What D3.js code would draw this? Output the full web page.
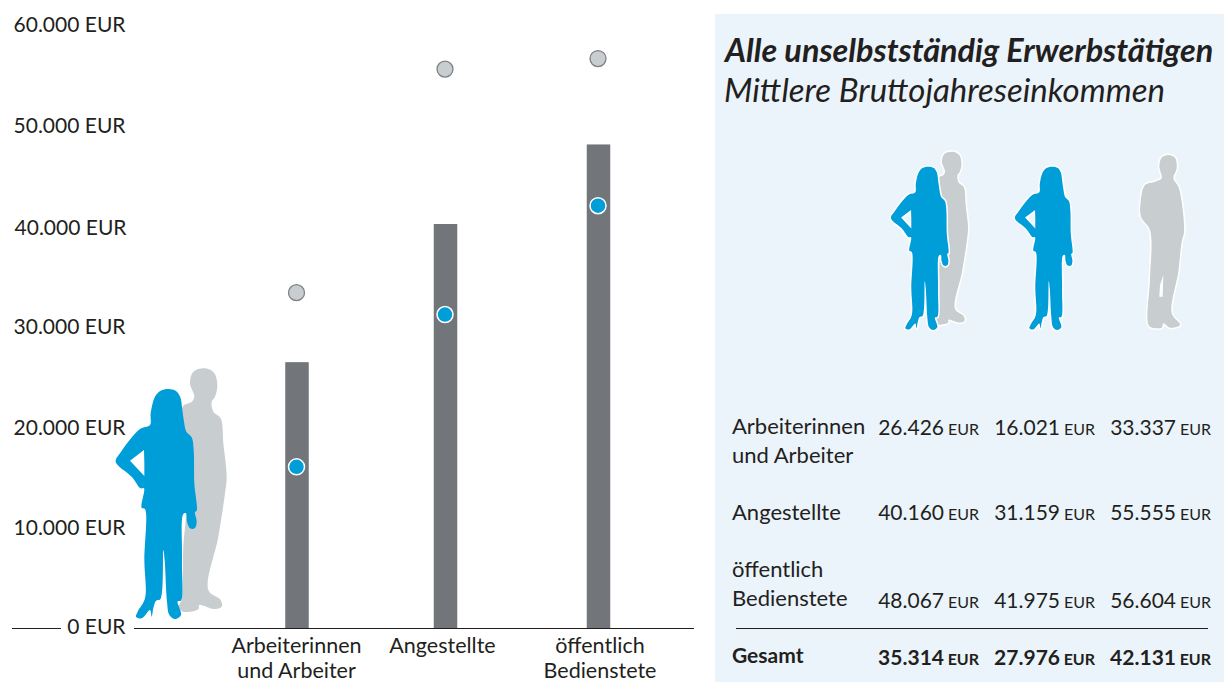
<!DOCTYPE html>
<html lang="de"><head><meta charset="utf-8">
<script src="https://cdn.jsdelivr.net/npm/d3@7/dist/d3.min.js"></script>
<style>
html,body{margin:0;padding:0;background:#fff}
svg{display:block}
text{font-family:Lato,"Open Sans",sans-serif;fill:#231f20}
</style></head><body><svg id="c" width="1224" height="682"></svg>
<script>
const categories = [["Arbeiterinnen","und Arbeiter"],["Angestellte"],["öffentlich","Bedienstete"]];
const categoryKeys = ["Arbeiter","Angestellte","Bedienstete"];
const gesamtValues = [26426, 40160, 48067];
const frauenValues = [16021, 31159, 41975];
const maennerValues = [33337, 55555, 56604];
const totalRow = [35314, 27976, 42131];
const yTicks = [0,10000,20000,30000,40000,50000,60000];
const panelTitle = "Alle unselbstständig Erwerbstätigen";
const panelSubtitle = "Mittlere Bruttojahreseinkommen";
const totalLabel = "Gesamt";

const BLUE="#009ed8", GREY="#c8cdd0", BAR="#72767a", PANEL="#ebf4fb";
const svg=d3.select("#c");
const fmt=d3.formatLocale({decimal:",",thousands:".",grouping:[3],currency:["","EUR"]}).format(",d");

const y=d3.scaleLinear().domain([0,60000]).range([628,24.4]);
const x=d3.scaleOrdinal().domain(categoryKeys).range([297,445.5,598.5]);
const xLabel=d3.scaleOrdinal().domain(categoryKeys).range([296.5,442.5,600]);

/* ---------- silhouettes (drawn shapes, not data) ---------- */
const smooth=d3.line().curve(d3.curveCatmullRomClosed.alpha(0.5));
const womanOuter=[[205,87],[228,93],[241,112],[247,150],[252,185],[259,215],[275,232],[281,270],[283,370],[290,452],[285,456],[290,485],[284,505],[270,505],[261,485],[258,460],[250,462],[246,600],[243,722],[233,724],[243,765],[225,777],[208,765],[201,725],[194,600],[190,570],[181,718],[168,722],[160,745],[155,770],[150,750],[125,775],[108,770],[113,755],[135,715],[133,600],[135,447],[125,443],[132,385],[122,385],[95,350],[47,305],[60,280],[120,207],[150,195],[152,160],[165,110],[182,92]];
const womanHole=[[132,270],[90,302],[133,348],[133,310]];
const manOuter=[[315,25],[342,38],[352,75],[345,110],[335,125],[340,155],[362,175],[370,250],[380,350],[375,400],[355,530],[325,690],[362,720],[365,740],[340,747],[298,735],[295,748],[250,755],[235,740],[245,720],[250,560],[258,460],[255,300],[248,140],[275,125],[283,110],[270,70],[280,35]];
const man2Outer=[[865,30],[885,38],[890,70],[880,100],[895,125],[905,170],[912,262],[905,290],[895,380],[875,505],[900,540],[870,548],[850,535],[845,548],[810,545],[803,530],[810,400],[810,255],[783,215],[782,170],[795,120],[825,110],[845,100],[838,65],[845,38]];
const man2Hole=[[850,390],[848,455],[838,455],[840,420]];
const poly=p=>d3.line()(p)+"Z";

function figure(d,fill,tx,ty,s,halo){
  svg.append("path").attr("d",d).attr("fill",fill).attr("fill-rule","evenodd")
    .attr("transform",`translate(${tx},${ty}) scale(${s})`)
    .attr("stroke",halo?"#fff":"none").attr("stroke-width",halo?3:0)
    .attr("vector-effect","non-scaling-stroke").attr("stroke-linejoin","round")
    .attr("paint-order","stroke");
}
const womanD=smooth(womanOuter)+poly(womanHole);
const manD=smooth(manOuter);
const man2D=smooth(man2Outer)+poly(man2Hole);

/* ---------- left chart ---------- */
figure(manD,GREY,100,360,1/3,false);
figure(womanD,BLUE,100,360,1/3,false);

svg.append("g").selectAll("rect").data(categoryKeys).join("rect")
  .attr("x",k=>x(k)-11.75).attr("width",23.5)
  .attr("y",(k,i)=>y(gesamtValues[i])).attr("height",(k,i)=>y(0)-y(gesamtValues[i]))
  .attr("fill",BAR);

const axisG=svg.append("g").attr("transform","translate(125.5,0)")
  .call(d3.axisLeft(y).tickValues(yTicks).tickSize(0).tickPadding(0).tickFormat(v=>fmt(v)+" EUR"));
axisG.select(".domain").remove();
axisG.selectAll("text").style("font-family",'Lato,"Open Sans",sans-serif').style("font-size","21px").attr("fill","#231f20")
  .attr("dx",v=>v===40000?1:0).attr("y",v=>v===40000?2.4:v===0?-1:0.5);

[[12,61],[134,694]].forEach(([a,b])=>svg.append("line").attr("x1",a).attr("x2",b)
  .attr("y1",y(0)+0.5).attr("y2",y(0)+0.5).attr("stroke","#231f20").attr("stroke-width",1.1));

const xAxisLabels=svg.append("g").selectAll("text").data(categoryKeys).join("text")
  .attr("text-anchor","middle").attr("font-size",21.5).attr("y",652.5);
xAxisLabels.each(function(k,i){
  d3.select(this).selectAll("tspan").data(categories[i]).join("tspan")
    .attr("x",xLabel(k)).attr("dy",(d,j)=>j?25:0).text(d=>d);
});

svg.append("g").selectAll("circle").data(categoryKeys).join("circle")
  .attr("cx",k=>x(k)-0.5).attr("cy",(k,i)=>y(maennerValues[i])).attr("r",8)
  .attr("fill",GREY).attr("stroke","#7d8285").attr("stroke-width",1.3);
svg.append("g").selectAll("circle").data(categoryKeys).join("circle")
  .attr("cx",k=>x(k)-0.5).attr("cy",(k,i)=>y(frauenValues[i])).attr("r",8)
  .attr("fill",BLUE).attr("stroke","#fff").attr("stroke-width",1.5);

/* ---------- right panel ---------- */
svg.append("rect").attr("x",715).attr("y",14).attr("width",509).attr("height",668).attr("fill",PANEL);
svg.append("text").attr("x",725).attr("y",62).attr("font-size",32.4).attr("font-weight",700).attr("font-style","italic").text(panelTitle);
svg.append("text").attr("x",724).attr("y",102).attr("font-size",33).attr("font-style","italic").attr("font-weight",400).text(panelSubtitle);

figure(manD,GREY,878.1,145.75,0.2367,true);
figure(womanD,BLUE,879.8,146.08,0.2367,true);
figure(womanD,BLUE,1003.8,146.08,0.2367,true);
figure(man2D,GREY,880,145,1/3,true);

const rowBase=[435,520,608];
const labelBase=[[434,463],[520],[577,606]];
const colEnd=[944,1060,1176];
const colUnit=[979,1095,1211];
function cell(g,v,c,b,bold){
  g.append("text").attr("x",colEnd[c]).attr("y",b).attr("text-anchor","end").attr("font-size",21)
    .attr("font-weight",bold?700:400).text(fmt(v));
  g.append("text").attr("x",colUnit[c]).attr("y",b).attr("text-anchor","end").attr("font-size",16)
    .attr("font-weight",bold?700:400).text("EUR");
}
const tbl=svg.append("g");
categories.forEach((lines,i)=>{
  lines.forEach((l,j)=>tbl.append("text").attr("x",732).attr("y",labelBase[i][j]).attr("font-size",22).text(l));
  [gesamtValues,frauenValues,maennerValues].forEach((s,c)=>cell(tbl,s[i],c,rowBase[i],false));
});
tbl.append("line").attr("x1",736).attr("x2",1208).attr("y1",628.5).attr("y2",628.5).attr("stroke","#231f20").attr("stroke-width",1.1);
tbl.append("text").attr("x",732).attr("y",663).attr("font-size",21).attr("font-weight",700).text(totalLabel);
totalRow.forEach((v,c)=>cell(tbl,v,c,665,true));
</script></body></html>
